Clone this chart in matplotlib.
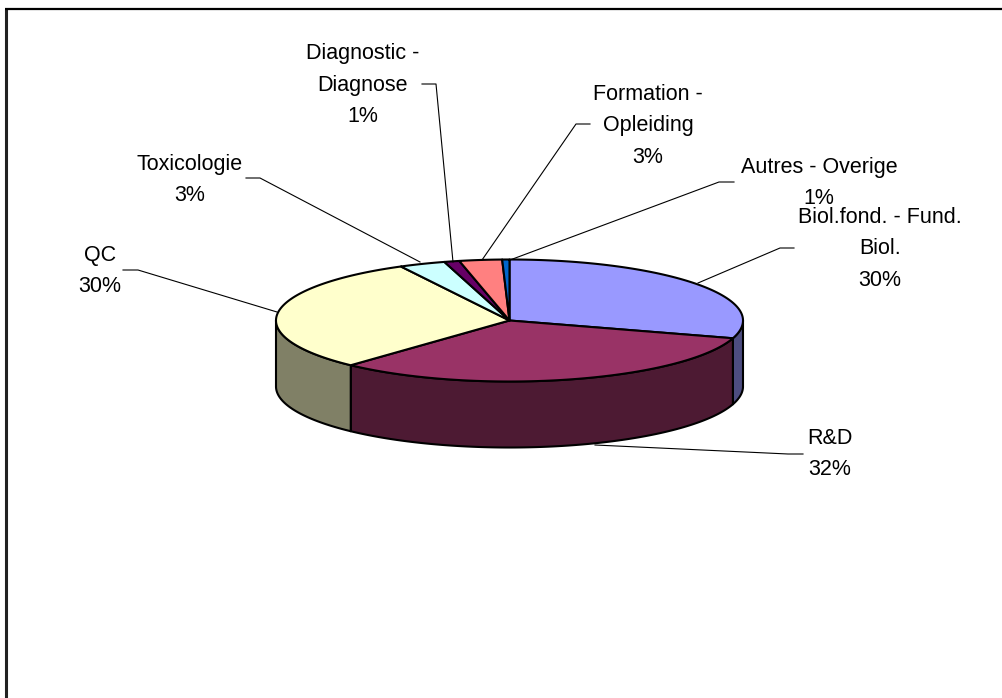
import numpy as np
import matplotlib
matplotlib.use("Agg")
import matplotlib.pyplot as plt
from matplotlib.patches import Polygon

plt.rcParams['font.family'] = ['Liberation Sans', 'DejaVu Sans']

# Clockwise from 12 o'clock
labels = ["Biol.fond. - Fund.\nBiol.\n30%", "R&D\n32%", "QC\n30%", "Toxicologie\n3%",
          "Diagnostic -\nDiagnose\n1%", "Formation -\nOpleiding\n3%", "Autres - Overige\n1%"]
values = [29.7, 32.2, 30.4, 3.2, 1.05, 2.95, 0.5]
top_colors = ["#9999FF", "#993366", "#FFFFCC", "#CCFFFF", "#660066", "#FF8080", "#0066CC"]
side_colors = ["#4D4D80", "#4D1A33", "#808066", "#668080", "#330033", "#804040", "#003366"]

# Label centres, pixels
label_x = [880, 830, 100, 190, 363, 648, 819]
label_y = [249, 454, 271, 180, 85, 126, 183]

# Leader lines, pixels
leaders = [
    [(794, 248), (780, 248), (698, 283)],
    [(803, 454), (788, 454), (595, 445)],
    [(123, 270), (138, 270), (277, 312)],
    [(246, 178), (260, 178), (420, 262)],
    [(422, 84), (436, 84), (453, 262)],
    [(590, 124), (576, 124), (482, 260)],
    [(734, 182), (719, 182), (510, 260)],
]

cx, cy = 509.5, 320.5
rx, ry = 233.5, 61
depth = 66


def rim(a0, a1):
    # angles clockwise from 12 o'clock, degrees
    t = np.radians(np.arange(a0, a1, 0.5).tolist() + [a1])
    return cx + rx * np.sin(t), cy - ry * np.cos(t)


fig = plt.figure(figsize=(10.02, 6.98), dpi=100)
ax = fig.add_axes([0, 0, 1, 1])
ax.set_xlim(0, 1002)
ax.set_ylim(698, 0)
ax.axis("off")

# chart frame
ax.plot([6, 6], [698, 8.5], color="#222222", lw=2.2, solid_capstyle="butt", zorder=1)
ax.plot([5, 1002], [8.5, 8.5], color="black", lw=1.6, solid_capstyle="butt", zorder=1)

edges = np.cumsum([0] + values) / sum(values) * 360

# side walls, only the part facing the viewer (90..270 deg)
for i in range(len(values)):
    a0, a1 = max(edges[i], 90), min(edges[i + 1], 270)
    if a1 <= a0:
        continue
    x, y = rim(a0, a1)
    pts = list(zip(x, y)) + list(zip(x[::-1], y[::-1] + depth))
    ax.add_patch(Polygon(pts, closed=True, fc=side_colors[i], ec="black", lw=1.5,
                         joinstyle="round", zorder=2))

# top face
for i in range(len(values)):
    x, y = rim(edges[i], edges[i + 1])
    pts = [(cx, cy)] + list(zip(x, y))
    ax.add_patch(Polygon(pts, closed=True, fc=top_colors[i], ec="black", lw=1.5,
                         joinstyle="round", zorder=3))

for pts in leaders:
    xs, ys = zip(*pts)
    ax.plot(xs, ys, color="black", lw=0.8, zorder=4)

for i in range(len(labels)):
    ax.text(label_x[i], label_y[i], labels[i], ha="center", va="center", fontsize=15.5,
            linespacing=1.63, color="black", zorder=5)

fig.savefig("out.png", dpi=100)
